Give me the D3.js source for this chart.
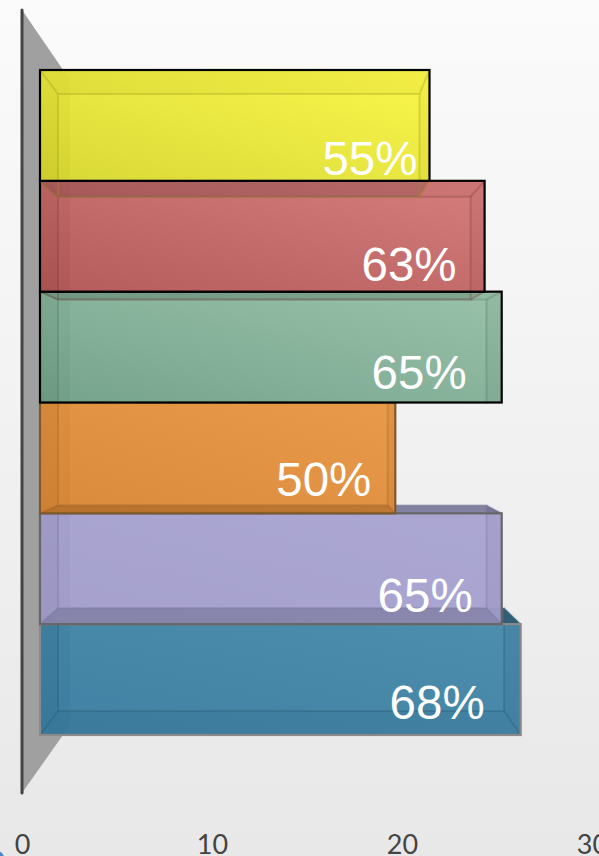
<!DOCTYPE html>
<html>
<head>
<meta charset="utf-8">
<script src="https://cdn.jsdelivr.net/npm/d3@7"></script>
<style>
  html, body { margin: 0; padding: 0; overflow: hidden; }
</style>
</head>
<body>
<div id="chart"></div>
<script>
var values = [20.5, 23.4, 24.3, 18.7, 24.3, 25.3];
var percentLabels = ["55%", "63%", "65%", "50%", "65%", "68%"];
var tickValues = [0, 10, 20, 30];
var colorsLeft = ["#d6d62a", "#b05252", "#6e9e86", "#d88430", "#a09cca", "#367a9e"];
var colorsRight = ["#fffa44", "#d67a78", "#98c2a8", "#ea9642", "#a8a4d2", "#4488aa"];
var strokes = ["#000", "#000", "#000", "#7d5a30", "#666", "#8a8a8a"];

// where each label sits relative to the end of its bar
var labelDx = [-12, -28, -35, -24, -29, -36];
var labelDy = [-6, -11, -14, -17, -12, -16];

function main() {
    var width = 599, height = 856;
    var depth = 18;   // bars start this far right of the axis
    var k = 0.072;    // perspective of the back face
    var vx = 290, vy = 402;

    var svg = d3.select("#chart").append("svg")
        .attr("width", width)
        .attr("height", height)
        .style("display", "block");

    var defs = svg.append("defs");
    var bg = defs.append("linearGradient").attr("id", "bg")
        .attr("x1", 0).attr("y1", 0).attr("x2", 0).attr("y2", 1);
    bg.append("stop").attr("offset", "0%").attr("stop-color", "#fbfbfb");
    bg.append("stop").attr("offset", "100%").attr("stop-color", "#e8e8e8");

    values.forEach(function (v, i) {
        var g = defs.append("linearGradient").attr("id", "bar" + i)
            .attr("x1", 0).attr("y1", 1).attr("x2", 1).attr("y2", 0);
        g.append("stop").attr("offset", "0%").attr("stop-color", colorsLeft[i]);
        g.append("stop").attr("offset", "100%").attr("stop-color", colorsRight[i]);
    });

    svg.append("rect").attr("width", width).attr("height", height).attr("fill", "url(#bg)");

    // small piece of blue in the corner of the slide
    svg.append("circle").attr("cx", -3).attr("cy", 858).attr("r", 7).attr("fill", "#4a86c8");

    var x = d3.scaleLinear().domain([0, 30]).range([22, 592]);
    var y = d3.scaleBand().domain(d3.range(values.length)).range([70, 735]);

    // the wall behind the bars
    svg.append("path")
        .attr("d", "M22,10L70,80L70,725L22,793Z")
        .attr("fill", "#a0a0a0");
    svg.append("line")
        .attr("x1", x(0)).attr("x2", x(0))
        .attr("y1", 10).attr("y2", 793)
        .attr("stroke", "#444")
        .attr("stroke-width", 3)
        .attr("stroke-linecap", "round");

    function back(p) {
        return [p[0] + (vx - p[0]) * k, p[1] + (vy - p[1]) * k];
    }
    function poly(pts) {
        return "M" + pts.map(function (p) { return p[0] + "," + p[1]; }).join("L") + "Z";
    }

    var order = d3.range(values.length).reverse();

    order.forEach(function (i) {
        var x0 = x(0) + depth, x1 = x(values[i]) + depth;
        var y0 = y(i), y1 = y(i) + y.bandwidth();
        var a = [x0, y0], b = [x1, y0], c = [x1, y1], d = [x0, y1];
        var ab = back(a), bb = back(b), cb = back(c), db = back(d);
        var dark = d3.color(colorsLeft[i]).darker(1).formatHex();

        // colored faces must not spill over the bar below
        defs.append("clipPath").attr("id", "clip" + i)
            .append("rect")
            .attr("x", 0).attr("y", 0)
            .attr("width", width).attr("height", y1);

        var g = svg.append("g");
        var faces = g.append("g").attr("clip-path", "url(#clip" + i + ")");

        faces.append("path").attr("d", poly([ab, bb, cb, db]))
            .attr("fill", colorsLeft[i]).attr("fill-opacity", 0.6);

        [[a, ab, db, d], [b, bb, cb, c], [a, b, bb, ab], [d, c, cb, db]].forEach(function (f) {
            faces.append("path").attr("d", poly(f))
                .attr("fill", dark).attr("fill-opacity", 0.75);
        });

        g.append("rect")
            .attr("x", x0).attr("y", y0)
            .attr("width", x1 - x0).attr("height", y1 - y0)
            .attr("fill", "url(#bar" + i + ")")
            .attr("fill-opacity", 0.85);

        // bottom face only shades what is under it; the last bar has nothing there
        if (i < values.length - 1) {
            g.append("path").attr("d", poly([d, c, cb, db]))
                .attr("fill", "#000").attr("fill-opacity", 0.11);
        }

        // inner edges of the box
        var edges = g.append("g")
            .attr("fill", "none")
            .attr("stroke", dark)
            .attr("stroke-opacity", 0.3)
            .attr("stroke-width", 2);
        edges.append("path").attr("d", poly([ab, bb, cb, db]));
        [[a, ab], [b, bb], [c, cb], [d, db]].forEach(function (s) {
            edges.append("path").attr("d", "M" + s[0] + "L" + s[1]);
        });

        g.append("rect")
            .attr("x", x0).attr("y", y0)
            .attr("width", x1 - x0).attr("height", y1 - y0)
            .attr("fill", "none")
            .attr("stroke", strokes[i])
            .attr("stroke-width", 2.2);
    });

    svg.selectAll(".pct")
        .data(values)
        .enter()
        .append("text")
        .attr("class", "pct")
        .attr("x", function (d, i) { return x(d) + depth + labelDx[i]; })
        .attr("y", function (d, i) { return y(i) + y.bandwidth() + labelDy[i]; })
        .attr("text-anchor", "end")
        .attr("font-family", "'Liberation Sans'")
        .attr("font-size", 47.5)
        .attr("fill", "#fff")
        .text(function (d, i) { return percentLabels[i]; });

    var axis = svg.append("g")
        .attr("transform", "translate(0,830)")
        .call(d3.axisBottom(x).tickValues(tickValues).tickSize(0).tickFormat(d3.format("d")));
    axis.select(".domain").remove();
    axis.selectAll("text")
        .attr("y", 24)
        .attr("dy", 0)
        .attr("font-family", "Lato")
        .attr("font-size", 27)
        .attr("fill", "#444");
}

main();
</script>
</body>
</html>
